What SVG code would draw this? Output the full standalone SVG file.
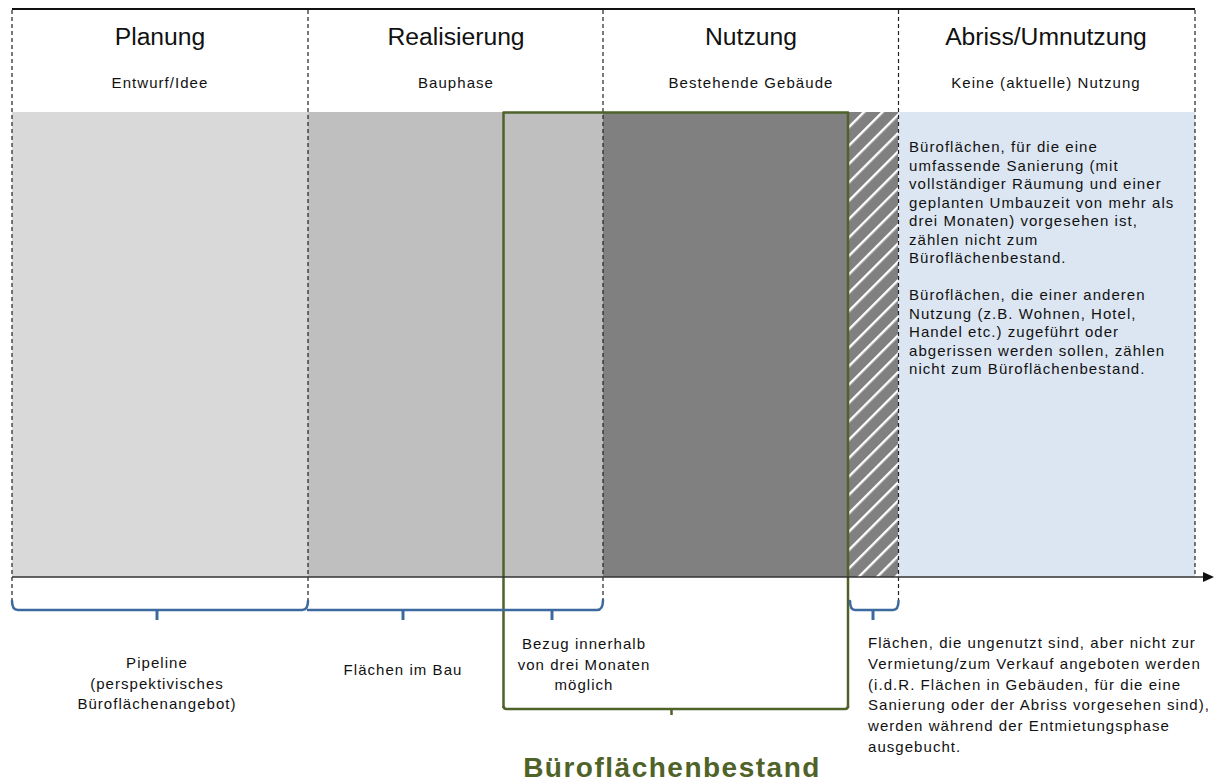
<svg xmlns="http://www.w3.org/2000/svg" width="1214" height="782" viewBox="0 0 1214 782">
<style>
.h{font-family:"Liberation Sans",Arial,sans-serif;font-size:24.7px;fill:#111;text-anchor:middle}
.s{font-family:"Liberation Sans",Arial,sans-serif;font-size:15px;letter-spacing:1.05px;fill:#111}
.m{text-anchor:middle}
.dash{stroke:#222;stroke-width:1.2;stroke-dasharray:4 3;fill:none}
.brace{stroke:#3d6a9e;stroke-width:2.5;fill:none;stroke-linecap:round;stroke-linejoin:round}
.tick{stroke:#3d6a9e;stroke-width:3;fill:none}
.green{stroke:#4f6228;stroke-width:2.5;fill:none;stroke-linejoin:round}
.big{font-family:"Liberation Sans",Arial,sans-serif;font-size:28px;font-weight:bold;letter-spacing:1.5px;fill:#4f6228;text-anchor:middle}
</style>
<defs>
<pattern id="hatch" patternUnits="userSpaceOnUse" width="13" height="13" patternTransform="rotate(45)">
<rect width="13" height="13" fill="#808080"/>
<rect x="0" y="0" width="2.4" height="13" fill="#ffffff"/>
</pattern>
</defs>
<rect width="1214" height="782" fill="#ffffff"/>

<!-- bands -->
<g id="bands">
<rect x="12" y="112" width="296" height="465" fill="#d9d9d9"/>
<rect x="308" y="112" width="295" height="465" fill="#bfbfbf"/>
<rect x="603" y="112" width="246" height="465" fill="#808080"/>
<rect x="849" y="112" width="49" height="465" fill="url(#hatch)"/>
<rect x="898" y="112" width="297" height="465" fill="#dce6f2"/>
</g>

<!-- phase headers -->
<g id="planung">
<text class="h" x="160" y="45">Planung</text>
<text class="s m" x="160" y="88">Entwurf/Idee</text>
</g>
<g id="realisierung">
<text class="h" x="456" y="45">Realisierung</text>
<text class="s m" x="456" y="88">Bauphase</text>
</g>
<g id="nutzung">
<text class="h" x="751" y="45">Nutzung</text>
<text class="s m" x="751" y="88">Bestehende Gebäude</text>
</g>
<g id="abriss">
<text class="h" x="1046" y="45">Abriss/Umnutzung</text>
<text class="s m" x="1046" y="88">Keine (aktuelle)  Nutzung</text>
<text class="s" x="909" y="152">Büroflächen, für die eine</text>
<text class="s" x="909" y="170.5">umfassende Sanierung (mit</text>
<text class="s" x="909" y="189">vollständiger Räumung und einer</text>
<text class="s" x="909" y="207.5">geplanten Umbauzeit von mehr als</text>
<text class="s" x="909" y="226">drei Monaten) vorgesehen ist,</text>
<text class="s" x="909" y="244.5">zählen nicht zum</text>
<text class="s" x="909" y="263">Büroflächenbestand.</text>
<text class="s" x="909" y="300">Büroflächen, die einer anderen</text>
<text class="s" x="909" y="318.5">Nutzung (z.B. Wohnen, Hotel,</text>
<text class="s" x="909" y="337">Handel etc.) zugeführt oder</text>
<text class="s" x="909" y="355.5">abgerissen werden sollen, zählen</text>
<text class="s" x="909" y="374">nicht zum Büroflächenbestand.</text>
</g>

<!-- frame lines -->
<g id="frame">
<line x1="12" y1="9" x2="1195" y2="9" stroke="#111" stroke-width="2.2"/>
<line class="dash" x1="12" y1="10" x2="12" y2="601"/>
<line class="dash" x1="308" y1="10" x2="308" y2="601"/>
<line class="dash" x1="603" y1="10" x2="603" y2="600"/>
<line class="dash" x1="898.5" y1="10" x2="898.5" y2="601"/>
<line class="dash" x1="1195" y1="10" x2="1195" y2="577"/>
</g>

<!-- green Büroflächenbestand box -->
<g id="bestand">
<path class="green" d="M503.5,708 L503.5,112.5 L848,112.5 L848,708"/>
<path class="green" d="M503.5,706 Q503.5,709 506.5,709 L845,709 Q848,709 848,706"/>
<line class="green" x1="671.5" y1="709" x2="671.5" y2="715"/>
<text class="big" x="672" y="777">Büroflächenbestand</text>
</g>

<!-- connectors: axis and braces -->
<g id="connectors">
<line x1="12" y1="577" x2="1204" y2="577" stroke="#333" stroke-width="1.5"/>
<polygon points="1203,572 1214,577 1203,582" fill="#111"/>
<path class="brace" d="M12,601 Q12,610 18,610 L302,610 Q308,610 308,601"/>
<path class="brace" d="M308,610 L597,610 Q603,610 603,600"/>
<line class="tick" x1="157" y1="610" x2="157" y2="620"/>
<line class="tick" x1="403" y1="610" x2="403" y2="620"/>
<line class="tick" x1="552" y1="610" x2="552" y2="620"/>
<path class="brace" d="M850,601 Q850,610 855,610 L893,610 Q898.5,610 898.5,601"/>
<line class="tick" x1="873" y1="610" x2="873" y2="620"/>
</g>

<!-- bottom labels -->
<g id="pipeline">
<text class="s m" x="157" y="668">Pipeline</text>
<text class="s m" x="157" y="688.5">(perspektivisches</text>
<text class="s m" x="157" y="709">Büroflächenangebot)</text>
</g>
<g id="imbau">
<text class="s m" x="403" y="675">Flächen im Bau</text>
</g>
<g id="bezug">
<text class="s m" x="584" y="649">Bezug innerhalb</text>
<text class="s m" x="584" y="669.5">von drei Monaten</text>
<text class="s m" x="584" y="690">möglich</text>
</g>
<g id="ungenutzt">
<text class="s" x="868" y="648">Flächen, die ungenutzt sind, aber nicht zur</text>
<text class="s" x="868" y="668.8">Vermietung/zum Verkauf angeboten werden</text>
<text class="s" x="868" y="689.6">(i.d.R. Flächen in Gebäuden, für die eine</text>
<text class="s" x="868" y="710.4">Sanierung oder der Abriss vorgesehen sind),</text>
<text class="s" x="868" y="731.2">werden während der Entmietungsphase</text>
<text class="s" x="868" y="752">ausgebucht.</text>
</g>
</svg>
